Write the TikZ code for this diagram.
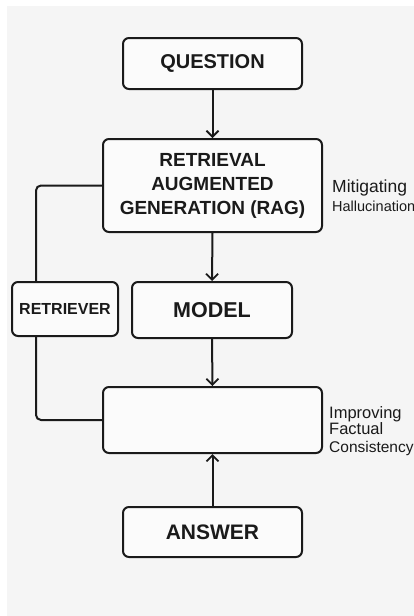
\documentclass[tikz,border=0pt]{standalone}
\usepackage{fontspec}
\setmainfont{Liberation Sans}
\usetikzlibrary{arrows.meta}
\definecolor{ink}{HTML}{1A1A1A}
\definecolor{paper}{HTML}{F5F5F5}
\definecolor{boxfill}{HTML}{FBFBFB}
\begin{document}
\begin{tikzpicture}[x=1pt,y=-1pt,
  box/.style={draw=ink, fill=boxfill, line width=2pt, rounded corners=6pt,
    text=ink, align=center, inner sep=0pt},
  link/.style={draw=ink, line width=2pt},
  flow/.style={link, -{Straight Barb[length=6pt,width=12pt,line width=1.8pt]}},
  side/.style={text=ink, anchor=base west, inner sep=0pt}]
  % page and panel
  \useasboundingbox (0,0) rectangle (414,616);
  \fill[white] (0,0) rectangle (414,616);
  \fill[paper] (7,6) rectangle (414,616);

  % boxes
  \node[box, minimum width=179pt, minimum height=51pt, font=\bfseries\fontsize{20}{22}\selectfont]
    (q) at (212.5,63.5) {QUESTION};
  \node[box, minimum width=219pt, minimum height=93pt, font=\bfseries\fontsize{19}{24}\selectfont]
    (rag) at (212.5,185.5) {RETRIEVAL\\AUGMENTED\\GENERATION (RAG)};
  \node[box, minimum width=106pt, minimum height=54pt, font=\bfseries\fontsize{16}{18}\selectfont]
    (ret) at (65,309) {RETRIEVER};
  \node[box, minimum width=160pt, minimum height=56pt, font=\bfseries\fontsize{21.5}{24}\selectfont]
    (model) at (212,310) {MODEL};
  \node[box, minimum width=219pt, minimum height=66pt] (out) at (212.5,420) {};
  \node[box, minimum width=179pt, minimum height=50pt, font=\bfseries\fontsize{21}{24}\selectfont]
    (ans) at (212.5,532) {ANSWER};

  % main flow
  \draw[flow] (q.south) -- (rag.north);
  \draw[flow] (rag.south) -- (model.north);
  \draw[flow] (model.south) -- (out.north);
  \draw[flow] (ans.north) -- (out.south);

  % retriever loop on the left
  \coordinate (lx) at (36,0);
  \draw[link, rounded corners=5pt] (rag.west) -| (lx |- ret.north);
  \draw[link, rounded corners=5pt] (lx |- ret.south) |- (out.west);

  % side notes
  \node[side, font=\fontsize{17.5}{20}\selectfont] (n1) at (332,192) {Mitigating};
  \node[side, font=\fontsize{14.5}{16}\selectfont] (n2) at (332,211) {Hallucination};
  \node[side, font=\fontsize{16.5}{18}\selectfont] (n3) at (329,418) {Improving};
  \node[side, font=\fontsize{16.5}{18}\selectfont] (n4) at (329,434.5) {Factual};
  \node[side, font=\fontsize{15.5}{18}\selectfont] (n5) at (329,452) {Consistency};
\end{tikzpicture}
\end{document}
